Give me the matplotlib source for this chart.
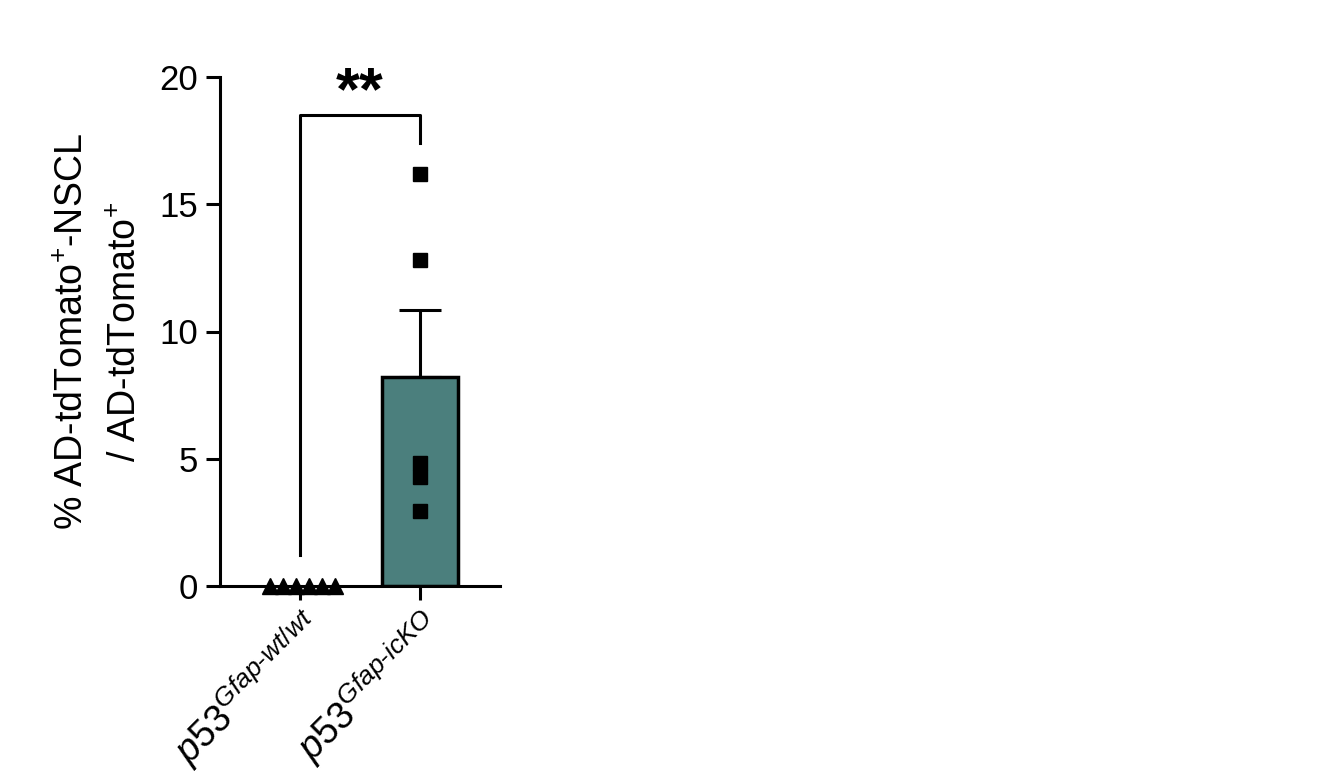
import matplotlib
matplotlib.use("Agg")
import matplotlib.pyplot as plt
import numpy as np

plt.rcParams['font.family'] = ['Liberation Sans', 'DejaVu Sans']
plt.rcParams['mathtext.fontset'] = 'custom'
plt.rcParams['mathtext.rm'] = 'Liberation Sans'
plt.rcParams['mathtext.it'] = 'Liberation Sans:italic'
plt.rcParams['mathtext.bf'] = 'Liberation Sans:bold'

categories = [r"$\mathit{p53}^{\mathit{Gfap}\text{-}\mathit{wt}{/}\mathit{wt}}$",
              r"$\mathit{p53}^{\mathit{Gfap}\text{-}\mathit{icKO}}$"]
wt_points = [0, 0, 0, 0, 0, 0]
ko_points = [16.2, 12.8, 4.85, 4.3, 2.95]
bar_means = [0.0, 8.2]
bar_sem = [0.0, 2.65]
yticks = [0, 5, 10, 15, 20]

fig = plt.figure(figsize=(13.39, 7.76), dpi=100)
ax = fig.add_axes([220/1339, 1-586/776, 280/1339, (586-77)/776])

lw = 2.2
# bars
ax.bar([1], [bar_means[1]], width=0.64, color='#4b7f7d', edgecolor='black',
       linewidth=2.5, zorder=2)
ax.errorbar([1], [bar_means[1]], yerr=[[0], [bar_sem[1]]], fmt='none',
            ecolor='black', elinewidth=lw, capsize=15, capthick=lw, zorder=1)

# points
offs = (np.arange(len(wt_points)) - (len(wt_points)-1)/2) * 0.107
ax.plot(0.02 + offs, wt_points, linestyle='none', marker='^', color='black',
        markersize=12, clip_on=False, zorder=3)
ax.plot([1]*len(ko_points), ko_points, linestyle='none', marker='s',
        color='black', markersize=10, zorder=3)

# significance bracket
ax.plot([0, 0, 1, 1], [1.2, 18.5, 18.5, 17.4], color='black', lw=lw,
        clip_on=False, zorder=3)
ax.text(0.5, 18.75, '**', ha='center', va='baseline', fontsize=44,
        fontweight='bold')

ax.set_xlim(-0.667, 1.667)
ax.set_ylim(0, 20)
ax.set_yticks(yticks)
ax.set_xticks([0, 1])
ax.set_xticklabels(categories, rotation=45, ha='right',
                   rotation_mode='anchor', fontsize=27)
ax.tick_params(axis='y', labelsize=25, width=lw, length=10, pad=6)
ax.tick_params(axis='x', width=lw, length=10)
for s in ['top', 'right']:
    ax.spines[s].set_visible(False)
for s in ['left', 'bottom']:
    ax.spines[s].set_linewidth(lw)

ax.set_ylabel("% AD-tdTomato$^{+}$-NSCL\n/ AD-tdTomato$^{+}$", fontsize=27,
              labelpad=11, linespacing=1.6)

fig.savefig("out.png", dpi=100)
